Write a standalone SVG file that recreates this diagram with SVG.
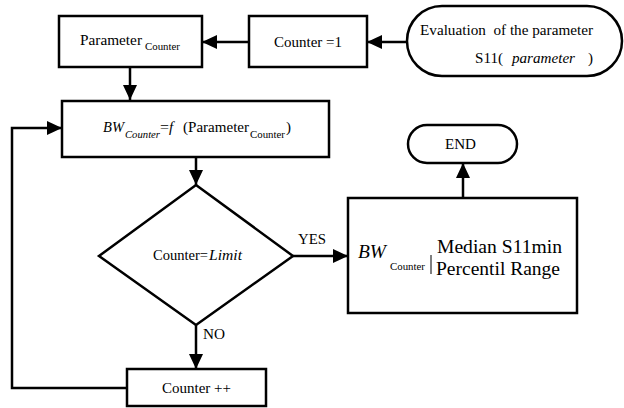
<svg xmlns="http://www.w3.org/2000/svg" width="624" height="408" viewBox="0 0 624 408">
<style>
.box{fill:#fff;stroke:#000;stroke-width:2.5}
.ln{fill:none;stroke:#000;stroke-width:2.5}
text{font-family:'Liberation Serif','Times New Roman','DejaVu Serif',serif;font-size:15px;fill:#000}
.i{font-style:italic}
.s{font-size:11px}
.big{font-size:19.5px}
</style>
<defs>
<marker id="ah" markerUnits="userSpaceOnUse" markerWidth="16" markerHeight="16" refX="15" refY="7" orient="auto">
<path d="M0,0 L15,7 L0,14 z" fill="#000"/>
</marker>
</defs>
<g id="connectors">
<line class="ln" x1="407" y1="42" x2="367" y2="42" marker-end="url(#ah)"/>
<line class="ln" x1="249" y1="42" x2="202" y2="42" marker-end="url(#ah)"/>
<line class="ln" x1="130" y1="67" x2="130" y2="100" marker-end="url(#ah)"/>
<line class="ln" x1="196" y1="157" x2="196" y2="185" marker-end="url(#ah)"/>
<line class="ln" x1="293" y1="256" x2="348" y2="256" marker-end="url(#ah)"/>
<line class="ln" x1="196" y1="325" x2="196" y2="369" marker-end="url(#ah)"/>
<polyline class="ln" points="127,388 12,388 12,128 62,128" marker-end="url(#ah)"/>
<line class="ln" x1="463" y1="198" x2="463" y2="163" marker-end="url(#ah)"/>
<text x="298" y="244" textLength="28" lengthAdjust="spacingAndGlyphs">YES</text>
<text x="203" y="339" textLength="22" lengthAdjust="spacingAndGlyphs">NO</text>
</g>
<g id="param">
<rect class="box" x="59" y="16" width="143" height="51"/>
<text x="80" y="45" textLength="62" lengthAdjust="spacingAndGlyphs">Parameter</text>
<text class="s" x="145" y="50" textLength="35" lengthAdjust="spacingAndGlyphs">Counter</text>
</g>
<g id="counter1">
<rect class="box" x="249" y="16" width="118" height="51"/>
<text x="274" y="47" textLength="68" lengthAdjust="spacingAndGlyphs">Counter =1</text>
</g>
<g id="evaluation">
<rect class="box" x="407" y="6" width="215" height="70" rx="35" ry="35"/>
<text x="420" y="35" textLength="173" lengthAdjust="spacingAndGlyphs" xml:space="preserve">Evaluation  of the parameter</text>
<text x="475" y="63" textLength="28" lengthAdjust="spacingAndGlyphs">S11(</text>
<text class="i" x="512" y="63" textLength="63" lengthAdjust="spacingAndGlyphs">parameter</text>
<text x="588" y="63">)</text>
</g>
<g id="bw">
<rect class="box" x="62" y="101" width="267" height="56"/>
<text class="i" x="103" y="132" textLength="21" lengthAdjust="spacingAndGlyphs">BW</text>
<text class="i s" x="125" y="138" textLength="35" lengthAdjust="spacingAndGlyphs">Counter</text>
<text x="160" y="132" textLength="9" lengthAdjust="spacingAndGlyphs">=</text>
<text class="i" x="169" y="132">f</text>
<text x="183" y="132" textLength="66" lengthAdjust="spacingAndGlyphs">(Parameter</text>
<text class="s" x="250" y="138" textLength="35" lengthAdjust="spacingAndGlyphs">Counter</text>
<text x="286" y="132">)</text>
</g>
<g id="decision">
<polygon class="box" points="196,185 293,256 196,325 99,256"/>
<text x="153" y="260" textLength="55" lengthAdjust="spacingAndGlyphs">Counter=</text>
<text class="i" x="209" y="260" textLength="33" lengthAdjust="spacingAndGlyphs">Limit</text>
</g>
<g id="counterpp">
<rect class="box" x="127" y="369" width="139" height="37"/>
<text x="162" y="393" textLength="69" lengthAdjust="spacingAndGlyphs">Counter ++</text>
</g>
<g id="result">
<rect class="box" x="348" y="198" width="229" height="115"/>
<text class="big i" x="358" y="258" textLength="28" lengthAdjust="spacingAndGlyphs">BW</text>
<text class="s" x="390" y="270" textLength="35" lengthAdjust="spacingAndGlyphs">Counter</text>
<line x1="431" y1="255" x2="431" y2="274" stroke="#000" stroke-width="1"/>
<text class="big" x="437" y="253" textLength="125" lengthAdjust="spacingAndGlyphs">Median S11min</text>
<text class="big" x="436" y="275" textLength="124" lengthAdjust="spacingAndGlyphs">Percentil Range</text>
</g>
<g id="end">
<rect class="box" x="408" y="125" width="109" height="38" rx="19" ry="19"/>
<text x="445" y="149" textLength="31" lengthAdjust="spacingAndGlyphs">END</text>
</g>
</svg>
